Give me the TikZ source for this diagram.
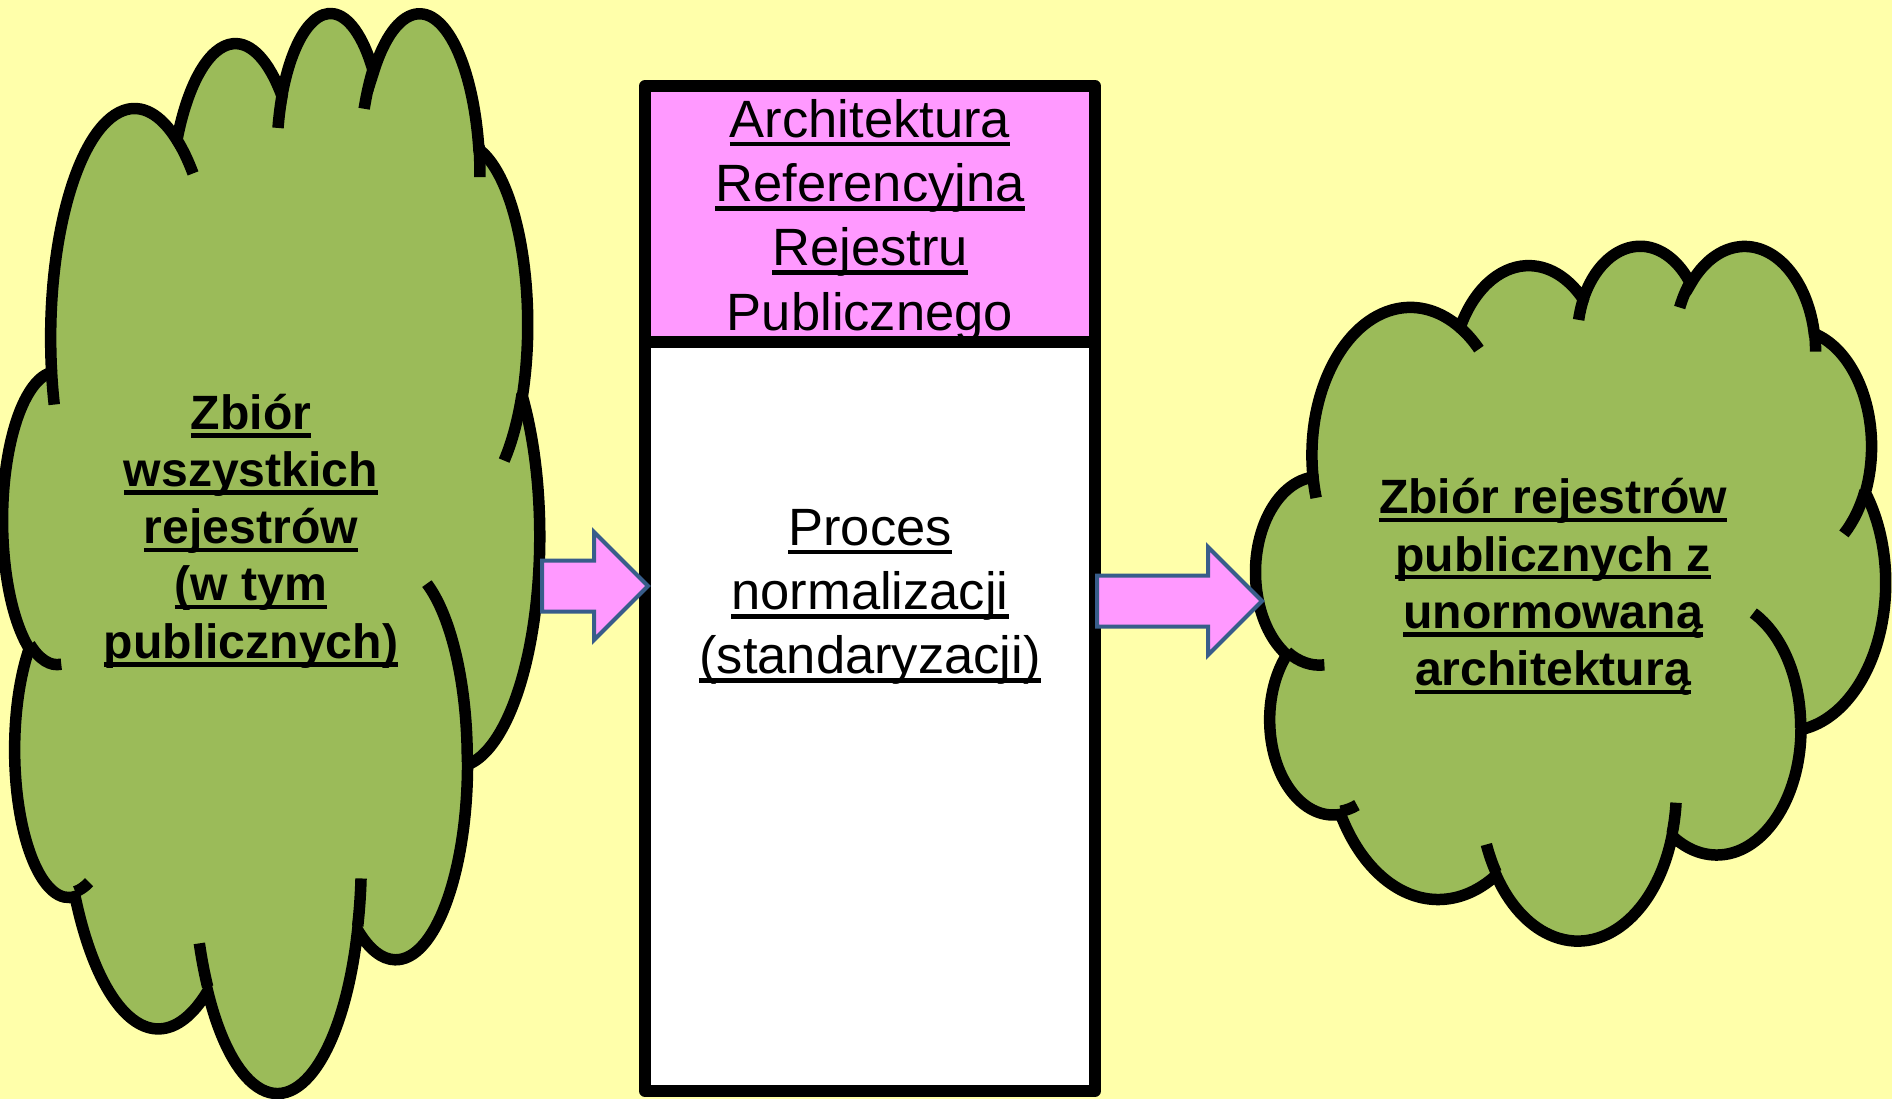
\documentclass[tikz,border=0pt]{standalone}
\usepackage{fontspec}
\setmainfont{Liberation Sans}
\usetikzlibrary{shapes.arrows}
\definecolor{bgyellow}{RGB}{255,255,170}
\definecolor{cloudgreen}{RGB}{155,187,89}
\definecolor{headpink}{RGB}{255,153,255}
\definecolor{arrowblue}{RGB}{56,93,138}
\newcommand{\uln}[1]{\setbox0=\hbox{#1}\rlap{\rule[-0.175em]{\wd0}{0.09em}}\box0}
\newcommand{\cloudshape}[4]{%
  \pgfmathsetmacro{\cloudw}{#3/432/100}%
  \pgfmathsetmacro{\cloudh}{#4/432/100}%
  \begin{scope}[shift={(#1,#2)},x=\cloudw mm,y=-\cloudh mm]
    \filldraw[cloudline,fill=cloudgreen] (390,1437)
      arc[x radius=675.3,y radius=919.0,start angle=-187.747,end angle=-59.638]
      arc[x radius=533.3,y radius=726.7,start angle=-152.025,end angle=-45.453]
      arc[x radius=436.5,y radius=594.5,start angle=-153.489,end angle=-37.322]
      arc[x radius=485.7,y radius=659.5,start angle=-139.709,end angle=-10.212]
      arc[x radius=533.3,y radius=727.3,start angle=-74.768,end angle=23.212]
      arc[x radius=677.5,y radius=922.0,start angle=-37.519,end angle=81.862]
      arc[x radius=578.5,y radius=786.7,start angle=0.460,end angle=121.979]
      arc[x radius=675.2,y radius=921.5,start angle=16.843,end angle=146.225]
      arc[x radius=772.0,y radius=1054.3,start angle=58.987,end angle=150.168]
      arc[x radius=436.0,y radius=591.8,start angle=-276.694,end angle=-136.899]
      arc[x radius=434.5,y radius=594.5,start angle=-239.639,end angle=-95.888]
      -- cycle;
    \draw[cloudline]
      (469.3,2617.7) arc[x radius=434.5,y radius=594.5,start angle=85.546,end angle=120.361]
      (692.8,3489.9) arc[x radius=436.0,y radius=591.8,start angle=68.233,end angle=83.306]
      (1647.8,3909.0) arc[x radius=675.2,y radius=921.5,start angle=146.225,end angle=158.474]
      (2882.7,3475.1) arc[x radius=675.2,y radius=921.5,start angle=4.738,end angle=16.843]
      (3412.9,2295.4) arc[x radius=578.5,y radius=786.7,start angle=-64.035,end angle=0.460]
      (4179.8,1535.4) arc[x radius=533.3,y radius=727.3,start angle=23.212,end angle=49.648]
      (3832.4,542.6) arc[x radius=485.7,y radius=659.5,start angle=-10.212,end angle=0.821]
      (2907.8,395.2) arc[x radius=485.7,y radius=659.5,start angle=-156.294,end angle=-139.709]
      (2214.1,472.0) arc[x radius=436.5,y radius=594.5,start angle=-167.725,end angle=-153.489]
      (1400.0,519.2) arc[x radius=675.3,y radius=919.0,start angle=-59.638,end angle=-45.740]
      (412.7,1578.9) arc[x radius=675.3,y radius=919.0,start angle=163.194,end angle=172.253];
  \end{scope}}

\begin{document}
\begin{tikzpicture}[x=0.1mm,y=-0.1mm]
	%
	% `cloudline' is the outline of both clouds.
	% `frame' is used for the two parts of the middle box.
	% `blockarrow' is used for the two pink arrows.
	\tikzstyle{cloudline} = [draw=black,line width=1.15mm]
	\tikzstyle{frame} = [draw=black,line width=1.2mm,line join=round]
	\tikzstyle{blockarrow} = [single arrow,draw=arrowblue,fill=headpink,line width=0.4mm,
		inner xsep=0pt,inner ysep=2.35mm,single arrow head extend=2.85mm,anchor=tail]
	\tikzstyle{cloudtext} = [align=center,inner sep=0pt,font=\fontsize{13.7}{16.3}\selectfont\bfseries]
	\tikzstyle{boxtext} = [align=center,inner sep=0pt,font=\fontsize{14.94}{18.3}\selectfont]
	%
	% Background
	\useasboundingbox (0,0) rectangle (1892,1099);
	\fill[bgyellow] (0,0) rectangle (1892,1099);
	%
	% Clouds
	\cloudshape{3}{10}{537}{1080}
	\cloudshape{1256}{244}{630}{695}
	%
	% Middle box
	\draw[frame,fill=headpink] (645,86) rectangle (1095,342);
	\draw[frame,fill=white] (645,342) rectangle (1095,1091);
	%
	% Arrows
	\node[blockarrow,minimum height=10.6mm] (arrow1) at (540,586) {};
	\node[blockarrow,minimum height=16.5mm] (arrow2) at (1095,601) {};
	%
	% Texts
	\node[cloudtext] at (251,531) (allreg) {\uln{Zbiór}\\\uln{wszystkich}\\\uln{rejestrów}\\\uln{(w tym}\\\uln{publicznych)}};
	\node[boxtext] at (870,220) (refarch) {\uln{Architektura}\\\uln{Referencyjna}\\\uln{Rejestru}\\Publicznego};
	\node[boxtext] at (870,597) (normproc) {\uln{Proces}\\\uln{normalizacji}\\\uln{(standaryzacji)}};
	\node[cloudtext] at (1553,587) (pubreg) {\uln{Zbiór rejestrów}\\\uln{publicznych z}\\\uln{unormowaną}\\\uln{architekturą}};
	%
\end{tikzpicture}
\end{document}
